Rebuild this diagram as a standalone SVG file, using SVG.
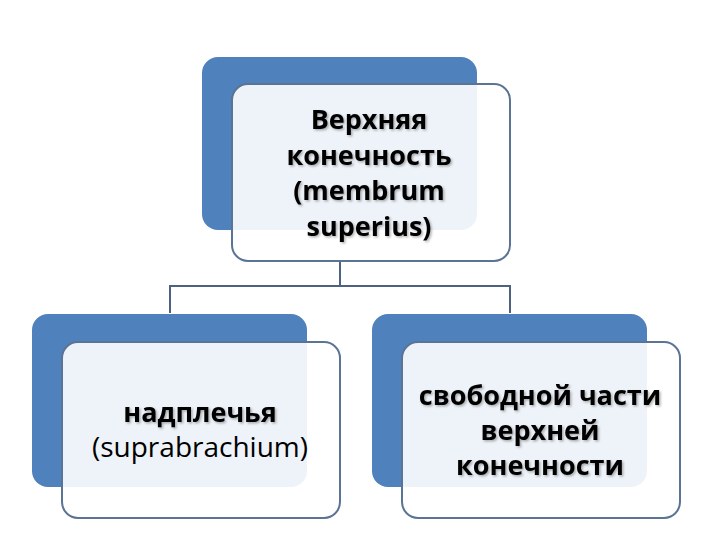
<svg xmlns="http://www.w3.org/2000/svg" width="720" height="540" viewBox="0 0 720 540">
<defs>
<filter id="sh" x="-10%" y="-10%" width="120%" height="130%">
<feDropShadow dx="1.5" dy="1.5" stdDeviation="0.8" flood-color="#000" flood-opacity="0.3"/>
</filter>
</defs>
<style>
.back{fill:#4f81bd}
.front{fill:#ffffff;fill-opacity:0.9;stroke:#5b7394;stroke-width:2}
.conn{fill:none;stroke:#4d6282;stroke-width:2}
.t{font-family:"Open Sans",Lato,"Liberation Sans",sans-serif;font-size:27px;fill:#000;text-anchor:middle}
.b{font-weight:bold}
.r{font-size:28px}
</style>
<rect width="720" height="540" fill="#fff"/>
<g id="connectors">
<path class="conn" d="M340 262V286M170 286H510M170 285V313M510 285V313"/>
</g>
<g id="node-top">
<rect class="back" x="202" y="57" width="275" height="173" rx="16"/>
<rect class="front" x="232" y="84" width="278" height="177" rx="16"/>
<g filter="url(#sh)">
<text class="t b" x="369" y="129">Верхняя</text>
<text class="t b" x="369" y="165">конечность</text>
<text class="t b" x="369" y="200">(membrum</text>
<text class="t b" x="369" y="236">superius)</text>
</g>
</g>
<g id="node-left">
<rect class="back" x="32" y="314" width="275" height="173" rx="16"/>
<rect class="front" x="62" y="342" width="278" height="176" rx="16"/>
<g filter="url(#sh)"><text class="t b" x="200" y="422">надплечья</text></g>
<text class="t r" x="200" y="457">(suprabrachium)</text>
</g>
<g id="node-right">
<rect class="back" x="372" y="314" width="275" height="173" rx="16"/>
<rect class="front" x="402" y="342" width="278" height="176" rx="16"/>
<g filter="url(#sh)">
<text class="t b" x="540" y="405">свободной части</text>
<text class="t b" x="540" y="440">верхней</text>
<text class="t b" x="540" y="475">конечности</text>
</g>
</g>
</svg>
